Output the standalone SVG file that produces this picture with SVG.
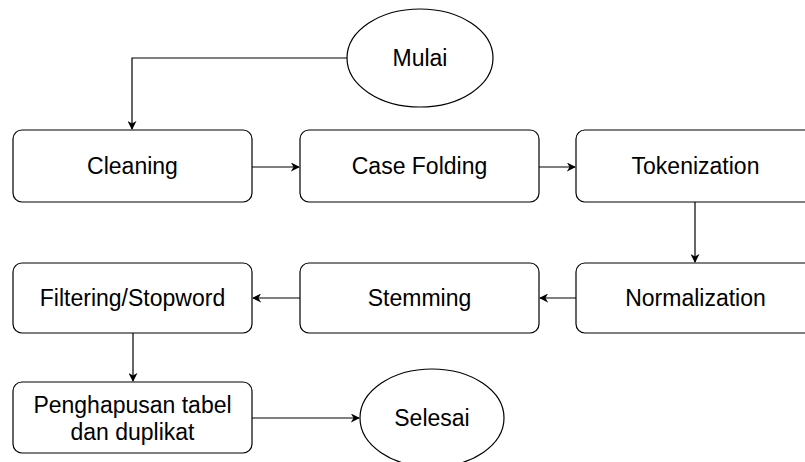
<svg xmlns="http://www.w3.org/2000/svg" width="805" height="462" viewBox="0 0 805 462">
  <style>
    .box { fill: #ffffff; stroke: #000000; stroke-width: 1.2; }
    .lbl { font-family: "Liberation Sans", Arial, sans-serif; font-size: 23px; fill: #000000; text-anchor: middle; }
    .edge { fill: none; stroke: #000000; stroke-width: 1.2; }
  </style>
  <defs>
    <marker id="arrow" viewBox="0 0 10 10" refX="9" refY="5" markerWidth="9" markerHeight="9" markerUnits="userSpaceOnUse" orient="auto">
      <path d="M0,0 L10,5 L0,10 L3,5 Z" fill="#000000"/>
    </marker>
  </defs>
  <rect width="805" height="462" fill="#ffffff"/>

  <g id="connectors">
    <path class="edge" d="M347,58 H132 V129" marker-end="url(#arrow)"/>
    <path class="edge" d="M252,167 H299" marker-end="url(#arrow)"/>
    <path class="edge" d="M539,167 H575" marker-end="url(#arrow)"/>
    <path class="edge" d="M695,202 V262" marker-end="url(#arrow)"/>
    <path class="edge" d="M576,298 H540" marker-end="url(#arrow)"/>
    <path class="edge" d="M300,298 H253" marker-end="url(#arrow)"/>
    <path class="edge" d="M133,333 V381" marker-end="url(#arrow)"/>
    <path class="edge" d="M252,418 H359" marker-end="url(#arrow)"/>
  </g>

  <g id="mulai">
    <ellipse class="box" cx="420" cy="58" rx="73" ry="49"/>
    <text class="lbl" x="420" y="66">Mulai</text>
  </g>

  <g id="cleaning">
    <rect class="box" x="13" y="130" width="239" height="72" rx="9"/>
    <text class="lbl" x="132.5" y="174">Cleaning</text>
  </g>

  <g id="case-folding">
    <rect class="box" x="300" y="130" width="239" height="72" rx="9"/>
    <text class="lbl" x="419.5" y="174">Case Folding</text>
  </g>

  <g id="tokenization">
    <rect class="box" x="576" y="130" width="239" height="72" rx="9"/>
    <text class="lbl" x="695.5" y="174">Tokenization</text>
  </g>

  <g id="normalization">
    <rect class="box" x="576" y="263" width="239" height="70" rx="9"/>
    <text class="lbl" x="695.5" y="306">Normalization</text>
  </g>

  <g id="stemming">
    <rect class="box" x="300" y="263" width="239" height="70" rx="9"/>
    <text class="lbl" x="419.5" y="306">Stemming</text>
  </g>

  <g id="filtering">
    <rect class="box" x="13" y="263" width="239" height="70" rx="9"/>
    <text class="lbl" x="132.5" y="306">Filtering/Stopword</text>
  </g>

  <g id="penghapusan">
    <rect class="box" x="13" y="382" width="239" height="71" rx="9"/>
    <text class="lbl" x="132.5" y="413">Penghapusan tabel</text>
    <text class="lbl" x="132.5" y="440">dan duplikat</text>
  </g>

  <g id="selesai">
    <ellipse class="box" cx="432" cy="418" rx="72" ry="49"/>
    <text class="lbl" x="432" y="426">Selesai</text>
  </g>
</svg>
